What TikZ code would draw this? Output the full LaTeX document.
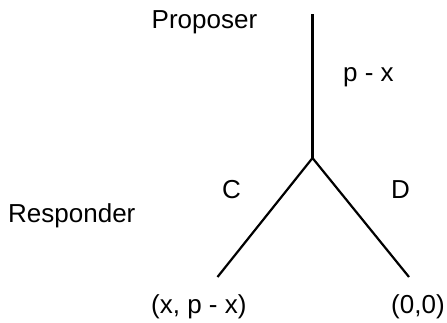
\documentclass[tikz,border=0pt]{standalone}
\usepackage{fontspec}
\setmainfont{Liberation Sans}
\begin{document}
\begin{tikzpicture}[x=1pt,y=-1pt,
  lbl/.style={anchor=base west,inner sep=0pt,font=\fontsize{26}{30}\selectfont},
  branch/.style={line width=2.2pt,line cap=butt}]
\useasboundingbox (0,0) rectangle (447,322);
\coordinate (top) at (312.5,14);
\coordinate (mid) at (312.5,158);
\coordinate (left) at (217.5,277);
\coordinate (right) at (409,277);
\draw[branch] (top) -- (mid);
\draw[branch] (left) -- (mid) -- (right);
\node[lbl] (proposer) at (151.5,28.5) {Proposer};
\node[lbl] (offer) at (343,81.5) {p - x};
\node[lbl] (c) at (222,198.5) {C};
\node[lbl] (d) at (391,198.5) {D};
\node[lbl] (responder) at (8,222) {Responder};
\node[lbl] (payc) at (151,313.5) {(x, p - x)};
\node[lbl] (payd) at (391,313.5) {(0,0)};
\end{tikzpicture}
\end{document}
